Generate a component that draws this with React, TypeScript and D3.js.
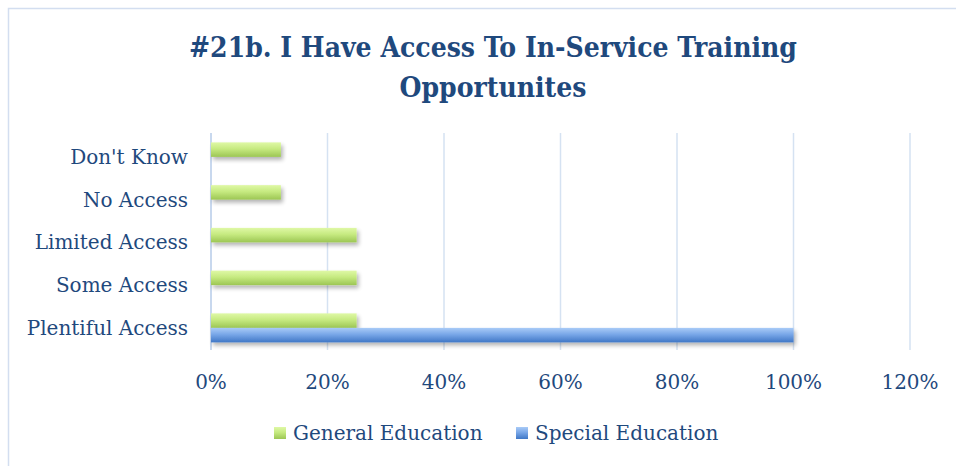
import React from "react";
import { scaleLinear, scaleBand, format, range } from "d3";

const categories = ["Don't Know", "No Access", "Limited Access", "Some Access", "Plentiful Access"];
const seriesNames = ["General Education", "Special Education"];
const generalEducation = [0.12, 0.12, 0.25, 0.25, 0.25];
const specialEducation = [0, 0, 0, 0, 1];
const xTicks = [0, 0.2, 0.4, 0.6, 0.8, 1.0, 1.2];

const width = 956,
  height = 466;
const font = "'DejaVu Serif', serif";
const titleFont = "'DejaVu Serif Condensed', 'DejaVu Serif', serif";
const textColor = "#1f497d";
const gridColor = "#d5e2f2";

export default function App() {
  const xScale = scaleLinear().domain([0, 1.2]).range([211, 910]);
  const yScale = scaleBand().domain(categories).range([135.5, 349.25]).padding(0);
  const subScale = scaleBand().domain(seriesNames).range([-14.5, 14.5]);
  const pct = format(".0%");

  const series = [
    { name: seriesNames[0], values: generalEducation, fill: "url(#gradGreen)", key: "green" },
    { name: seriesNames[1], values: specialEducation, fill: "url(#gradBlue)", key: "blue" }
  ];

  return (
    <svg
      width={width}
      height={height}
      style={{ position: "absolute", left: 0, top: 0, background: "#fff" }}
    >
      <defs>
        <linearGradient id="gradGreen" x1="0" y1="0" x2="0" y2="1">
          <stop offset="0%" stopColor="#dff8a6" />
          <stop offset="45%" stopColor="#c6ea80" />
          <stop offset="100%" stopColor="#9cc654" />
        </linearGradient>
        <linearGradient id="gradBlue" x1="0" y1="0" x2="0" y2="1">
          <stop offset="0%" stopColor="#a9cbf7" />
          <stop offset="45%" stopColor="#79a7e8" />
          <stop offset="100%" stopColor="#3f77c6" />
        </linearGradient>
        <filter id="shadow" x="-10%" y="-50%" width="130%" height="250%">
          <feGaussianBlur in="SourceAlpha" stdDeviation="2" />
          <feOffset dx="2" dy="3" result="blur" />
          <feComponentTransfer>
            <feFuncA type="linear" slope="0.3" />
          </feComponentTransfer>
          <feMerge>
            <feMergeNode />
            <feMergeNode in="SourceGraphic" />
          </feMerge>
        </filter>
      </defs>

      {/* chart frame */}
      <rect x={8.5} y={8.5} width={980} height={480} fill="#fff" stroke="#d3def0" strokeWidth={1.5} />

      {/* title */}
      <text
        x={493}
        y={57}
        textAnchor="middle"
        fontFamily={titleFont}
        fontWeight="bold"
        fontStretch="condensed"
        fontSize={28}
        fill={textColor}
      >
        <tspan x={493}>#21b. I Have Access To In-Service Training</tspan>
        <tspan x={493} dy={40}>Opportunites</tspan>
      </text>

      {/* gridlines */}
      {xTicks.slice(1).map(t => (
        <line key={t} x1={xScale(t)} x2={xScale(t)} y1={133} y2={350} stroke={gridColor} strokeWidth={1.5} />
      ))}
      <line x1={xScale(0)} x2={xScale(0)} y1={133} y2={350} stroke="#c8d8ee" strokeWidth={2} />

      {/* bars */}
      {series.map(s =>
        range(categories.length).map(i =>
          s.values[i] > 0 ? (
            <rect
              key={s.key + i}
              x={xScale(0)}
              y={(yScale(categories[i]) as number) + yScale.bandwidth() / 2 + (subScale(s.name) as number)}
              width={xScale(s.values[i]) - xScale(0)}
              height={subScale.bandwidth()}
              fill={s.fill}
              filter="url(#shadow)"
            />
          ) : null
        )
      )}

      {/* category labels */}
      {categories.map(c => (
        <text
          key={c}
          x={188}
          y={(yScale(c) as number) + yScale.bandwidth() / 2}
          dy="0.35em"
          textAnchor="end"
          fontFamily={font}
          fontSize={20}
          fill={textColor}
        >
          {c}
        </text>
      ))}

      {/* x tick labels */}
      {xTicks.map(t => (
        <text
          key={t}
          x={xScale(t)}
          y={382}
          dy="0.35em"
          textAnchor="middle"
          fontFamily={font}
          fontSize={20}
          fill={textColor}
        >
          {pct(t)}
        </text>
      ))}

      {/* legend */}
      {series.map((s, i) => {
        const lx = i === 0 ? 274 : 516;
        return (
          <g key={s.key}>
            <rect x={lx} y={427} width={12} height={12} fill={s.fill} />
            <text x={lx + 19} y={433} dy="0.35em" fontFamily={font} fontSize={20} fill={textColor}>
              {s.name}
            </text>
          </g>
        );
      })}
    </svg>
  );
}
